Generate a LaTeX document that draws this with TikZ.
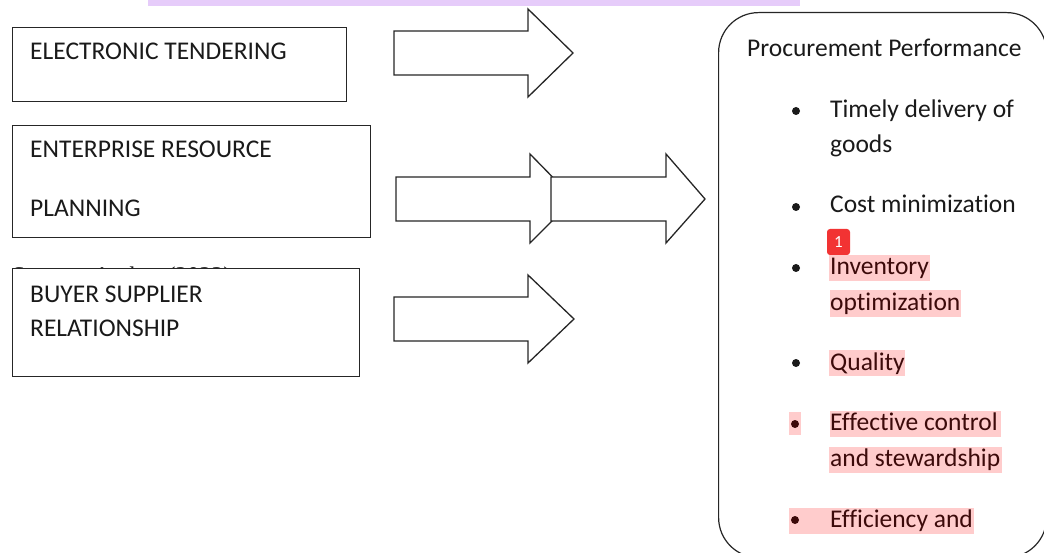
\documentclass[tikz,border=0pt]{standalone}
\usepackage{fontspec}
\setmainfont[Ligatures=NoCommon]{Carlito}
\newfontfamily\serifsrc{Liberation Serif}
\definecolor{hl}{HTML}{FFCCCC}
\definecolor{band}{HTML}{E6CCFA}
\definecolor{txt}{HTML}{1A1A1A}
\definecolor{hltxt}{HTML}{3C0A0A}
\definecolor{badge}{HTML}{F23333}
\begin{document}
\begin{tikzpicture}[x=1pt,y=-1pt,line join=miter,
  box/.style={draw=black!85, line width=1.2pt, fill=white, anchor=north west, inner sep=0pt},
  blockarrow/.style={draw=black!85, line width=1.3pt, fill=white},
  lbl/.style={anchor=base west, inner sep=0pt, text=txt, font=\fontsize{25.5}{28}\selectfont},
  hlbl/.style={lbl, text=hltxt},
  hlrect/.style={fill=hl},
  dot/.style={circle, fill=txt, inner sep=0pt, minimum size=8pt},
  hdot/.style={dot, fill=hltxt}]
\useasboundingbox (0,0) rectangle (1044,553);
\clip (0,0) rectangle (1044,553);
% top highlight band (clipped caption)
\fill[band] (148,0) rectangle (800,6);
% clipped source line behind box 3
\begin{scope}
  \clip (0,255) rectangle (400,268);
  \node[anchor=base west, inner sep=0pt, text=txt, font=\serifsrc\fontsize{24}{26}\selectfont] (src) at (12,284) {Source: Author (2023)};
\end{scope}
% left boxes
\node[box, minimum width=334pt, minimum height=74pt] (et) at (12,27) {};
\node[box, minimum width=358pt, minimum height=112pt] (erp) at (12,125) {};
\node[box, minimum width=347pt, minimum height=108pt] (bsr) at (12,268) {};
\node[lbl] (etA) at (30,60) {ELECTRONIC TENDERING};
\node[lbl] (erpA) at (30,158) {ENTERPRISE RESOURCE};
\node[lbl] (erpB) at (30,217) {PLANNING};
\node[lbl] (bsrA) at (30,302) {BUYER SUPPLIER};
\node[lbl] (bsrB) at (30,337) {RELATIONSHIP};
% block arrows
\draw[blockarrow] (394,31) -- (528,31) -- (528,9) -- (573,53) -- (528,97) -- (528,75) -- (394,75) -- cycle;
\draw[blockarrow] (396,177) -- (530,177) -- (530,154) -- (574,199) -- (530,243) -- (530,221) -- (396,221) -- cycle;
\draw[blockarrow] (551,177) -- (666,177) -- (666,154) -- (705,199) -- (666,243) -- (666,221) -- (551,221) -- cycle;
\draw[blockarrow] (394,297) -- (528,297) -- (528,275) -- (574,319) -- (528,363) -- (528,341) -- (394,341) -- cycle;
% procurement performance box
\node[box, rounded corners=40pt, minimum width=328pt, minimum height=545pt] (pp) at (718,12) {};
\node[lbl] (ppT) at (747,57) {Procurement Performance};
% highlights
\fill[hlrect] (829,255) rectangle (930,281);
\fill[hlrect] (830,290) rectangle (961,317);
\fill[hlrect] (829,350) rectangle (905,376);
\fill[hlrect] (789,412) rectangle (801,435);
\fill[hlrect] (830,411) rectangle (1001,437);
\fill[hlrect] (829,447) rectangle (1002,473);
\fill[hlrect] (789,508) rectangle (974,534);
% bullets and items
\node[dot] (b1) at (796,111) {};
\node[lbl] (i1a) at (830,118) {Timely delivery of};
\node[lbl] (i1b) at (830,153) {goods};
\node[dot] (b2) at (796,207) {};
\node[lbl] (i2) at (830,213) {Cost minimization};
\node[dot] (b3) at (796,268) {};
\node[hlbl] (i3a) at (830,275) {Inventory};
\node[hlbl] (i3b) at (830,310) {optimization};
\node[dot] (b4) at (796,363) {};
\node[hlbl] (i4) at (830,370) {Quality};
\node[hdot] (b5) at (795,424) {};
\node[hlbl] (i5a) at (830,430) {Effective control};
\node[hlbl] (i5b) at (830,466) {and stewardship};
\node[hdot] (b6) at (795,520) {};
\node[hlbl] (i6) at (830,527) {Efficiency and};
% annotation badge
\node[fill=badge, rounded corners=3pt, minimum width=23pt, minimum height=26pt, inner sep=0pt, text=white, font=\fontsize{17}{18}\selectfont] (badge1) at (838.5,242) {1};
\end{tikzpicture}
\end{document}
